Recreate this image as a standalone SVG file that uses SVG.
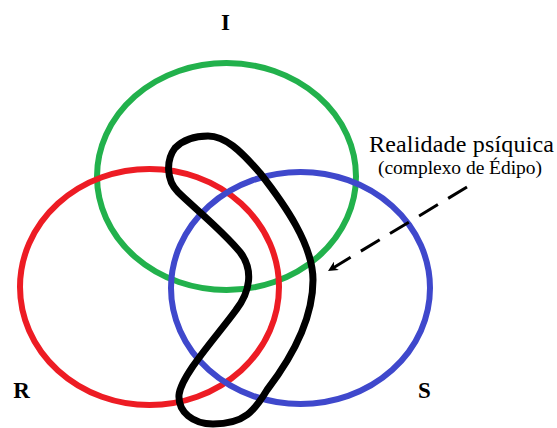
<svg xmlns="http://www.w3.org/2000/svg" width="557" height="428" viewBox="0 0 557 428">
<style>
.ring{fill:none;stroke-width:6}
.lbl{font-family:"Liberation Serif","Times New Roman",serif;font-weight:bold;font-size:23px;fill:#000;text-anchor:middle}
.txt{font-family:"Liberation Serif","Times New Roman",serif;fill:#000;text-anchor:middle}
</style>
<defs>
<marker id="ah" markerWidth="12" markerHeight="10" refX="10" refY="5" orient="auto" markerUnits="userSpaceOnUse">
<path d="M0,0 L10,5 L0,10 L3,5 Z" fill="#000"/>
</marker>
</defs>
<rect width="557" height="428" fill="#fff"/>
<g id="I"><ellipse class="ring" cx="226.5" cy="176.5" rx="129.5" ry="113.5" stroke="#22b14c"/></g>
<g id="R"><ellipse class="ring" cx="149.5" cy="287" rx="129.5" ry="118" stroke="#ed1c24"/></g>
<g id="S"><ellipse class="ring" cx="300.5" cy="288" rx="129.5" ry="116" stroke="#3f48cc"/></g>
<g id="realidade">
<path fill="none" stroke="#000" stroke-width="7" stroke-linejoin="round" d="M208,136 C225,136 240,150 260,173 C285,205 313,245 313,280 C313,320 290,360 267,390 C255,410 245,424 213,424 C193,424 178,412 179,395 C181,375 218,335 236,310 C250,292 254,270 240,252 C222,230 192,206 178,192 C166,180 166,160 175,148 C184,139 196,136 208,136 Z"/>
</g>
<g id="connectors">
<line x1="467" y1="187" x2="328" y2="271" stroke="#000" stroke-width="3" stroke-dasharray="22,12" marker-end="url(#ah)"/>
</g>
<g id="labels">
<text class="lbl" x="225.5" y="30">I</text>
<text class="lbl" x="21.5" y="398">R</text>
<text class="lbl" x="424.5" y="397.5">S</text>
<text class="txt" x="461.5" y="152" font-size="24" textLength="185">Realidade psíquica</text>
<text class="txt" x="460" y="174" font-size="19.5" textLength="164">(complexo de Édipo)</text>
</g>
</svg>
